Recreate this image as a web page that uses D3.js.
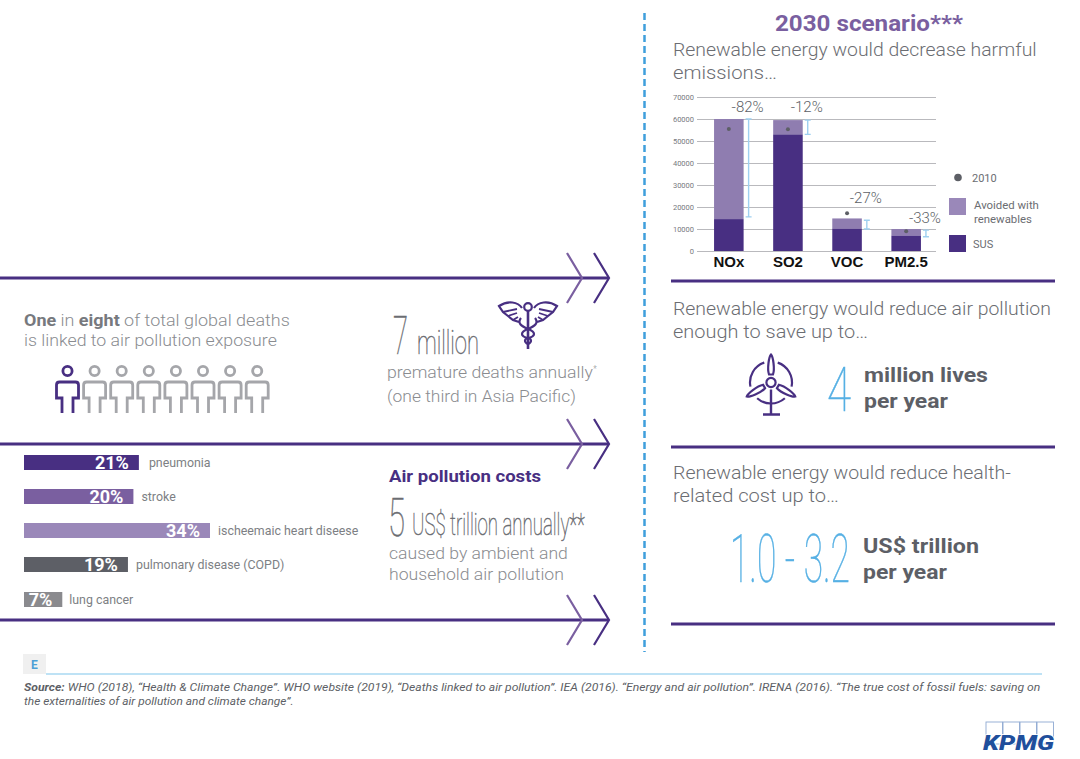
<!DOCTYPE html>
<html lang="en">
  <head>
    <meta charset="UTF-8" />
    <title>Air pollution and renewable energy</title>
    <style>
      html, body { margin: 0; padding: 0; background: #fff; }
      svg { display: block; }
      text { font-family: "Roboto", sans-serif; }
    </style>
  </head>
  <body>
    <svg width="1080" height="759"></svg>
    <script src="https://cdnjs.cloudflare.com/ajax/libs/d3/7.8.5/d3.min.js"></script>
    <script>
      // emissions chart
      const pollutants = ["NOx", "SO2", "VOC", "PM2.5"];
      const susValues = [14500, 53000, 10200, 7000];
      const avoidedValues = [45500, 6500, 4600, 3000];
      const values2010 = [55500, 55300, 17200, 9000];
      const changeLabels = ["-82%", "-12%", "-27%", "-33%"];
      const rangeTop = [60000, 59500, 14000, 9500];
      const rangeBottom = [15500, 53000, 10000, 6500];
      const emissionTicks = [0, 10000, 20000, 30000, 40000, 50000, 60000, 70000];

      // causes of death
      const causes = ["pneumonia", "stroke", "ischeemaic heart diseese", "pulmonary disease (COPD)", "lung cancer"];
      const causeShares = [21, 20, 34, 19, 7];
      const peopleFlags = [1, 0, 0, 0, 0, 0, 0, 0];

      const dark = "#482f82", mid = "#7a5fa0", light = "#9a88b9", body = "#6b6d72", blue = "#56b0e4";
      const svg = d3.select("svg");

      // opts.width squeezes the text horizontally to that many pixels
      function label(x, y, txt, size, color, opts) {
        opts = opts || {};
        const t = svg.append("text")
          .attr("font-size", size)
          .attr("fill", color)
          .attr("font-weight", opts.weight || 300)
          .attr("font-style", opts.style || "normal")
          .attr("text-anchor", opts.anchor || "start")
          .attr("transform", `translate(${x},${y})`)
          .text(txt);
        if (opts.stroke) t.attr("stroke", color).attr("stroke-width", opts.stroke);
        t.fit = (w) => {
          const len = t.node().getComputedTextLength();
          t.attr("transform", `translate(${x},${y}) scale(${w / len},1)`);
          return t;
        };
        if (opts.width) t.fit(opts.width);
        return t;
      }

      // arrows on the left side
      [278, 444, 620].forEach((y) => {
        svg.append("line").attr("x1", 0).attr("x2", 608).attr("y1", y).attr("y2", y)
          .attr("stroke", dark).attr("stroke-width", 3);
        svg.append("path").attr("d", `M567,${y - 25}L582,${y}L567,${y + 25}`)
          .attr("fill", "none").attr("stroke", mid).attr("stroke-width", 2.2);
        svg.append("path").attr("d", `M594,${y - 25}L609,${y}L594,${y + 25}`)
          .attr("fill", "none").attr("stroke", dark).attr("stroke-width", 2.2);
      });

      // dashed divider
      svg.append("line").attr("x1", 644.5).attr("x2", 644.5).attr("y1", 13).attr("y2", 652)
        .attr("stroke", "#3f9fdc").attr("stroke-width", 2.5).attr("stroke-dasharray", "7 4");

      // right hand rules
      [281, 447, 624].forEach((y) => {
        svg.append("line").attr("x1", 671).attr("x2", 1055).attr("y1", y).attr("y2", y)
          .attr("stroke", dark).attr("stroke-width", 3);
      });

      // ---- right column text
      label(775, 31, "2030 scenario***", 21.5, mid, { weight: 700, width: 188 });
      label(673, 56, "Renewable energy would decrease harmful", 18, body, { width: 364 });
      label(673, 79, "emissions…", 18, body, { width: 104 });
      label(673, 315, "Renewable energy would reduce air pollution", 18, body, { width: 378 });
      label(673, 338, "enough to save up to…", 18, body, { width: 195 });
      label(673, 479, "Renewable energy would reduce health-", 18, body, { width: 338 });
      label(673, 502, "related cost up to…", 18, body, { width: 166 });

      label(827, 411, "4", 62, blue, { weight: 100, stroke: 0.5, width: 24 });
      label(864, 382, "million lives", 21, "#5d5f66", { weight: 700, width: 124 });
      label(864, 408, "per year", 21, "#5d5f66", { weight: 700, width: 84 });
      label(730, 582, "1.0 - 3.2", 66, blue, { weight: 100, stroke: 0.5, width: 120 });
      label(863, 553, "US$ trillion", 21, "#5d5f66", { weight: 700, width: 116 });
      label(863, 579, "per year", 21, "#5d5f66", { weight: 700, width: 84 });

      // ---- emissions chart
      const x = d3.scaleBand().domain(pollutants).range([684.5, 950.5]).padding(0.5);
      const y = d3.scaleLinear().domain([0, 70000]).range([251, 97]);

      const yAxis = svg.append("g").attr("transform", "translate(697,0)")
        .call(d3.axisLeft(y).tickValues(emissionTicks).tickFormat(d3.format("d")).tickSize(-239).tickPadding(3));
      yAxis.select(".domain").remove();
      yAxis.selectAll("line").attr("stroke", "#b9b9bd");
      yAxis.selectAll("text").attr("font-size", 7.5).attr("fill", "#77797e").attr("font-weight", 400);

      svg.append("g").selectAll("rect").data(pollutants).join("rect")
        .attr("x", (d) => x(d))
        .attr("width", x.bandwidth())
        .attr("y", (d, i) => y(susValues[i] + avoidedValues[i]))
        .attr("height", (d, i) => y(0) - y(avoidedValues[i]))
        .attr("fill", "#8f7db0");

      svg.append("g").selectAll("rect").data(pollutants).join("rect")
        .attr("x", (d) => x(d))
        .attr("width", x.bandwidth())
        .attr("y", (d, i) => y(susValues[i]))
        .attr("height", (d, i) => y(0) - y(susValues[i]))
        .attr("fill", dark);

      svg.append("g").selectAll("circle").data(values2010).join("circle")
        .attr("cx", (d, i) => x(pollutants[i]) + x.bandwidth() / 2)
        .attr("cy", (d) => y(d))
        .attr("r", 2)
        .attr("fill", "#5d5f66");

      // change brackets
      const bracketX = (i) => x(pollutants[i]) + x.bandwidth() + 5;
      svg.append("g").selectAll("path").data(pollutants).join("path")
        .attr("d", (d, i) => {
          const bx = bracketX(i), t = y(rangeTop[i]), b = y(rangeBottom[i]);
          return `M${bx - 3},${t}H${bx + 3}M${bx},${t}V${b}M${bx - 3},${b}H${bx + 3}`;
        })
        .attr("fill", "none").attr("stroke", "#9fd0f0").attr("stroke-width", 1.4);

      const changeY = [112, 112, 203, 223];
      svg.append("g").selectAll("text").data(changeLabels).join("text")
        .attr("x", (d, i) => bracketX(i) - 1)
        .attr("y", (d, i) => changeY[i])
        .attr("text-anchor", "middle")
        .attr("font-size", 15)
        .attr("font-weight", 300)
        .attr("fill", "#5d5f66")
        .text((d) => d);

      const xAxis = svg.append("g").attr("transform", "translate(0,251)")
        .call(d3.axisBottom(x).tickSize(0).tickPadding(5));
      xAxis.select(".domain").remove();
      xAxis.selectAll("text").attr("font-size", 15).attr("font-weight", 700).attr("fill", "#111")
        .style("font-family", "'Liberation Sans', sans-serif");

      // legend
      svg.append("circle").attr("cx", 958).attr("cy", 177.5).attr("r", 3.8).attr("fill", "#5d5f66");
      label(972, 182, "2010", 11, body, { weight: 400 });
      svg.append("rect").attr("x", 949).attr("y", 198).attr("width", 17).attr("height", 17).attr("fill", "#9a88b9");
      label(974, 209, "Avoided with", 11, body, { weight: 400, width: 65 });
      label(974, 223, "renewables", 11, body, { weight: 400, width: 58 });
      svg.append("rect").attr("x", 949).attr("y", 235).attr("width", 17).attr("height", 17).attr("fill", dark);
      label(973, 248, "SUS", 11, body, { weight: 400 });

      // ---- one in eight
      const intro = label(24, 326, "", 17, "#8a8c90");
      intro.append("tspan").attr("font-weight", 700).attr("fill", "#77797e").text("One");
      intro.append("tspan").text(" in ");
      intro.append("tspan").attr("font-weight", 700).attr("fill", "#77797e").text("eight");
      intro.append("tspan").text(" of total global deaths");
      intro.fit(266);
      label(24, 346, "is linked to air pollution exposure", 17, "#8a8c90", { width: 253 });

      const person = svg.append("g").selectAll("g").data(peopleFlags).join("g")
        .attr("transform", (d, i) => `translate(${67.5 + i * 27.1},0)`)
        .attr("fill", "none")
        .attr("stroke", (d) => (d ? dark : "#a5a6aa"))
        .attr("stroke-width", 2.8);
      person.append("circle").attr("cx", 0).attr("cy", 371).attr("r", 4.6);
      person.append("path").attr("d", "M-5.5,413V398H-11V385Q-11,382 -8,382H8Q11,382 11,385V398H5.5V413");

      // caduceus
      const cad = svg.append("g").attr("fill", "none").attr("stroke", dark).attr("stroke-width", 2.2)
        .attr("transform", "translate(528,0)");
      cad.append("circle").attr("cx", 0).attr("cy", 307).attr("r", 3.8);
      cad.append("path").attr("d", "M0,311V349").attr("stroke-width", 2.6);
      [-1, 1].forEach((s) => {
        const side = cad.append("g").attr("transform", `scale(${s},1)`);
        side.append("path")
          .attr("d", "M6,308C10,302 20,300 29,306L25,312L20,316L15,320L9,322");
        side.append("path").attr("d", "M11,309L25,312M11,313L20,316M10,317L15,320").attr("stroke-width", 1.8);
        side.append("path").attr("d", "M7,318C11,323 7,326 0,329C-8,332 -8,336 0,338C4,339 4,342 0,344");
      });

      label(393, 354, "7", 53, "#6b6d72", { weight: 100, stroke: 0.5, width: 15 });
      label(417, 354, "million", 34, "#6b6d72", { weight: 100, stroke: 0.5, width: 62 });
      label(387, 378, "premature deaths annually", 16.5, "#8a8c90", { width: 206 });
      label(593, 372, "*", 9, "#8a8c90");
      label(387, 402, "(one third in Asia Pacific)", 16.5, "#8a8c90", { width: 189 });

      // ---- cause bars
      const xShare = d3.scaleLinear().domain([0, 34]).range([0, 186]);
      const barTop = [455, 489, 523, 557, 592];
      const barColor = [dark, mid, light, "#5d5f66", "#8a8a8e"];
      const labelGap = [10, 8, 8, 8, 7];
      const causeRow = svg.append("g").selectAll("g").data(causes).join("g")
        .attr("transform", (d, i) => `translate(24,${barTop[i]})`);
      causeRow.append("rect")
        .attr("width", (d, i) => xShare(causeShares[i]))
        .attr("height", 15)
        .attr("fill", (d, i) => barColor[i]);
      causeRow.append("text")
        .attr("x", (d, i) => xShare(causeShares[i]) - 10)
        .attr("y", 13.5)
        .attr("text-anchor", "end")
        .attr("font-size", 18)
        .attr("font-weight", 700)
        .attr("fill", "#fff")
        .text((d, i) => causeShares[i] + "%");
      causeRow.append("text")
        .attr("x", (d, i) => xShare(causeShares[i]) + labelGap[i])
        .attr("y", 12)
        .attr("font-size", 12.4)
        .attr("font-weight", 400)
        .attr("fill", "#7d7f84")
        .text((d) => d);

      label(389, 482, "Air pollution costs", 16.5, dark, { weight: 700, width: 152 });
      label(388, 536, "5", 54, "#6b6d72", { weight: 100, stroke: 0.5, width: 17 });
      label(412, 535, "US$ trillion annually**", 32, "#6b6d72", { weight: 100, stroke: 0.5, width: 173 });
      label(389, 559, "caused by ambient and", 16.5, "#8a8c90", { width: 179 });
      label(389, 580, "household air pollution", 16.5, "#8a8c90", { width: 175 });

      // turbine
      const wind = svg.append("g").attr("transform", "translate(771,382.5)")
        .attr("fill", "none").attr("stroke", dark).attr("stroke-width", 2.2);
      wind.append("circle").attr("r", 4.6);
      [0, 120, 240].forEach((a) => {
        wind.append("path").attr("transform", `rotate(${a})`)
          .attr("d", "M-2,-8C-4,-14 -2,-26 0,-28C2,-26 4,-14 2,-8Z").attr("fill", "#fff");
        wind.append("path").attr("transform", `rotate(${a + 60})`)
          .attr("d", d3.arc()({ innerRadius: 21, outerRadius: 21, startAngle: -0.72, endAngle: 0.72 }));
      });
      wind.append("path").attr("d", "M0,7V32M-8,32H9").attr("stroke-width", 2.4);

      // ---- footer
      svg.append("rect").attr("x", 23).attr("y", 654).attr("width", 23).attr("height", 20).attr("fill", "#f0f0f0");
      label(31, 669, "E", 12, "#4d9fd6", { weight: 700 });
      svg.append("line").attr("x1", 46).attr("x2", 1042).attr("y1", 674).attr("y2", 674)
        .attr("stroke", "#a9d8f2").attr("stroke-width", 1.6);

      const src = label(24, 691, "", 10.5, "#5d5f66", { style: "italic", weight: 400 });
      src.append("tspan").attr("font-weight", 700).text("Source:");
      src.append("tspan").text(" WHO (2018), “Health & Climate Change”. WHO website (2019), “Deaths linked to air pollution”. IEA (2016). “Energy and air pollution”. IRENA (2016). “The true cost of fossil fuels: saving on");
      src.fit(1018);
      label(24, 705, "the externalities of air pollution and climate change”.", 10.5, "#5d5f66", { style: "italic", weight: 400, width: 270 });

      // kpmg logo
      [0, 1, 2, 3].forEach((i) => {
        svg.append("rect").attr("x", 986 + i * 17).attr("y", 722).attr("width", 16.5).attr("height", 22)
          .attr("fill", "none").attr("stroke", "#8fa9d2").attr("stroke-width", 0.9);
      });
      label(983, 750, "KPMG", 21, "#1f4f9c", { weight: 900, style: "italic", width: 71 })
        .style("paint-order", "stroke").attr("stroke", "#fff").attr("stroke-width", 1.5);
    </script>
  </body>
</html>
